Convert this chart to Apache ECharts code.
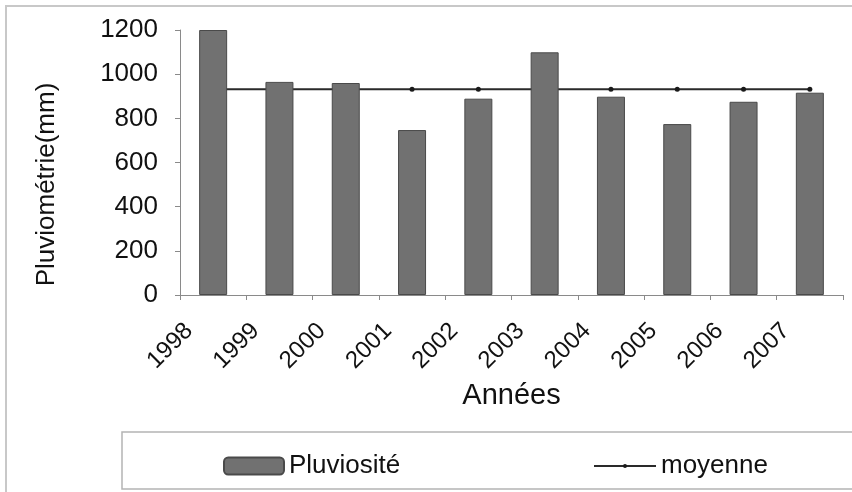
<!DOCTYPE html>
<html>
<head>
<meta charset="utf-8">
<script src="https://cdn.jsdelivr.net/npm/echarts@6/dist/echarts.min.js"></script>
<style>html,body{margin:0;padding:0;background:#fff}#c{width:852px;height:492px}</style>
</head>
<body>
<div id="c"></div>
<script>
const categories = ['1998','1999','2000','2001','2002','2003','2004','2005','2006','2007'];
const pluviosite = [1200, 965, 960, 747, 889, 1099, 898, 774, 875, 916];
const moyenne = [932, 932, 932, 932, 932, 932, 932, 932, 932, 932];
const yTicks = [0, 200, 400, 600, 800, 1000, 1200];

const FONT = 'Liberation Sans, Arial, sans-serif';
const chart = echarts.init(document.getElementById('c'));
chart.setOption({
  backgroundColor: '#ffffff',
  animation: false,
  graphic: [
    { type: 'polyline', shape: { points: [[6, 492], [6, 6], [852, 6]] }, style: { stroke: '#c8c8c8', lineWidth: 2, fill: null } },
    { type: 'rect', shape: { x: 122, y: 432, width: 740, height: 57 }, style: { stroke: '#b4b4b4', lineWidth: 1.5, fill: null } }
  ],
  grid: { left: 180, right: 9, top: 30, bottom: 197 },
  legend: [
    { data: ['Pluviosité'], left: 218, top: 448, itemWidth: 60, itemHeight: 17, itemGap: 10,
      textStyle: { fontFamily: FONT, fontSize: 26, color: '#111' } },
    { data: ['moyenne'], left: 588, top: 448, itemWidth: 62, itemHeight: 5,
      textStyle: { fontFamily: FONT, fontSize: 26, color: '#111' } }
  ],
  xAxis: {
    type: 'category',
    data: categories,
    name: 'Années',
    nameLocation: 'middle',
    nameGap: 86,
    nameTextStyle: { fontFamily: FONT, fontSize: 29, color: '#111' },
    axisLine: { lineStyle: { color: '#8a8a8a', width: 1 } },
    axisTick: { show: true, length: 5, lineStyle: { color: '#8a8a8a' } },
    axisLabel: { rotate: 45, margin: 8, padding: [0, 34, 0, 0], fontFamily: FONT, fontSize: 24, color: '#111', interval: 0 }
  },
  yAxis: {
    type: 'value',
    min: 0, max: 1200, interval: 200,
    name: 'Pluviométrie(mm)',
    nameLocation: 'middle',
    nameGap: 120,
    nameRotate: 90,
    nameTextStyle: { fontFamily: FONT, fontSize: 26, color: '#111', padding: [0, 44, 0, 0] },
    axisLine: { show: true, lineStyle: { color: '#8a8a8a', width: 1 } },
    axisTick: { show: true, length: 5, lineStyle: { color: '#8a8a8a' } },
    splitLine: { show: false },
    axisLabel: { margin: 22, fontFamily: FONT, fontSize: 26, color: '#111',
      formatter: v => yTicks.includes(v) ? String(v) : '' }
  },
  series: [
    { name: 'moyenne', type: 'line', data: moyenne, z: 1,
      lineStyle: { color: '#2a2a2a', width: 2 },
      itemStyle: { color: '#1a1a1a' },
      symbol: 'circle', symbolSize: 5, showSymbol: true },
    { name: 'Pluviosité', type: 'bar', data: pluviosite, z: 3, barWidth: 28,
      itemStyle: { color: '#717171', borderColor: '#4a4a4a', borderWidth: 1 } }
  ]
});
</script>
</body>
</html>
